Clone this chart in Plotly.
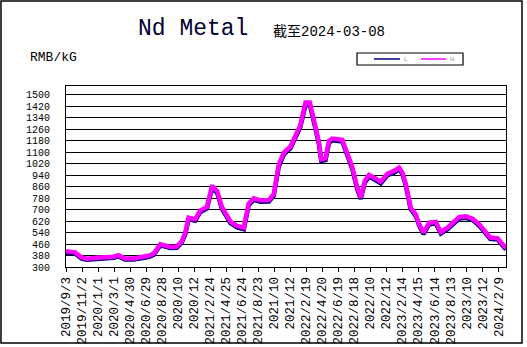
import plotly.graph_objects as go

dates = ["2019-09-03","2019-10-07","2019-11-01","2019-11-20","2019-12-27",
         "2020-02-03","2020-02-28","2020-03-17","2020-04-11","2020-05-13","2020-06-07","2020-07-08","2020-07-27","2020-08-21","2020-09-09","2020-09-27","2020-10-22","2020-11-10","2020-11-23","2020-12-05","2020-12-30",
         "2021-01-18","2021-02-12","2021-03-03","2021-03-22","2021-04-09","2021-05-11","2021-06-05","2021-06-30","2021-07-18","2021-08-06","2021-08-31","2021-10-02","2021-10-20","2021-11-08","2021-11-27","2021-12-22",
         "2022-01-10","2022-01-28","2022-02-16","2022-03-04","2022-03-26","2022-04-07","2022-04-16","2022-05-02","2022-05-15","2022-05-27","2022-07-04","2022-07-23","2022-08-10","2022-08-29","2022-09-11","2022-09-26","2022-10-12","2022-10-31","2022-11-25","2022-12-20",
         "2023-01-14","2023-02-02","2023-02-14","2023-02-27","2023-03-17","2023-04-05","2023-04-18","2023-05-04","2023-05-25","2023-06-19","2023-07-08","2023-08-02","2023-08-27","2023-09-15","2023-10-10","2023-11-04","2023-11-29","2023-12-24",
         "2024-01-09","2024-02-06","2024-02-25","2024-03-08"]

price_H = [410,402,366,358,364,
           368,372,382,360,360,366,378,393,458,450,440,442,481,540,644,633,
           695,719,865,830,719,616,586,574,742,779,765,767,807,1016,1098,1140,
           1226,1291,1447,1447,1273,1174,1051,1058,1179,1195,1186,1091,998,853,784,900,942,923,895,951,
           970,993,958,877,714,667,598,540,609,614,544,574,621,649,653,637,598,540,
           505,500,458,430]

price_L = [400,395,358,350,356,
           360,364,374,352,352,358,370,385,450,442,432,434,472,530,632,622,
           684,708,850,818,708,606,576,564,730,768,755,757,796,1000,1085,1128,
           1212,1278,1430,1432,1260,1160,1040,1046,1166,1183,1175,1080,986,842,774,888,930,912,884,940,
           958,982,948,866,704,657,588,530,598,604,534,564,610,638,643,627,588,531,
           496,491,450,422]

tick_dates = ["2019-09-03","2019-11-02","2020-01-01","2020-03-01","2020-04-30","2020-06-29","2020-08-28",
              "2020-10-27","2020-12-26","2021-02-24","2021-04-25","2021-06-24","2021-08-23","2021-10-22",
              "2021-12-21","2022-02-19","2022-04-20","2022-06-19","2022-08-18","2022-10-17","2022-12-16",
              "2023-02-14","2023-04-15","2023-06-14","2023-08-13","2023-10-12","2023-12-11","2024-02-09"]
tick_labels = ["2019/9/3","2019/11/2","2020/1/1","2020/3/1","2020/4/30","2020/6/29","2020/8/28",
               "2020/10","2020/12","2021/2/24","2021/4/25","2021/6/24","2021/8/23","2021/10",
               "2021/12","2022/2/19","2022/4/20","2022/6/19","2022/8/18","2022/10","2022/12",
               "2023/2/14","2023/4/15","2023/6/14","2023/8/13","2023/10","2023/12","2024/2/9"]

MONO = "Liberation Mono"

fig = go.Figure()
fig.add_trace(go.Scatter(x=dates, y=price_L, mode="lines", name="L",
                         line=dict(color="#000080", width=4.5), showlegend=False))
fig.add_trace(go.Scatter(x=dates, y=price_H, mode="lines", name="H",
                         line=dict(color="#FF00FF", width=4.5), showlegend=False))

L, R, T, B = 66, 506, 86, 267
W, H = R - L, B - T
def px(x): return (x - L) / W
def py(y): return (B - y) / H

shapes = [
    dict(type="rect", xref="paper", yref="paper", x0=px(1), x1=px(522), y0=py(1), y1=py(343),
         line=dict(color="black", width=1.5), layer="below"),
    dict(type="rect", xref="paper", yref="paper", x0=px(357), x1=px(463), y0=py(53), y1=py(65),
         line=dict(color="black", width=1.2), fillcolor="white"),
    dict(type="line", xref="paper", yref="paper", x0=px(374), x1=px(400), y0=py(59), y1=py(59),
         line=dict(color="#000080", width=1.5)),
    dict(type="line", xref="paper", yref="paper", x0=px(421), x1=px(446), y0=py(59), y1=py(59),
         line=dict(color="#FF00FF", width=1.5)),
]

annotations = [
    dict(text="Nd Metal", xref="paper", yref="paper", x=px(192.5), y=py(29), xanchor="center", yanchor="middle",
         showarrow=False, font=dict(family=MONO, size=23, color="#000033")),
    dict(text="截至2024-03-08", xref="paper", yref="paper", x=px(271), y=py(32), xanchor="left", yanchor="middle",
         showarrow=False, font=dict(family=MONO + ", Noto Sans CJK SC", size=14, color="black")),
    dict(text="RMB/kG", xref="paper", yref="paper", x=px(28), y=py(57), xanchor="left", yanchor="middle",
         showarrow=False, font=dict(family=MONO, size=13, color="black")),
    dict(text="L", xref="paper", yref="paper", x=px(402), y=py(59), xanchor="left", yanchor="middle",
         showarrow=False, font=dict(family="Liberation Sans", size=6, color="#c07878")),
    dict(text="H", xref="paper", yref="paper", x=px(448), y=py(59), xanchor="left", yanchor="middle",
         showarrow=False, font=dict(family="Liberation Sans", size=6, color="#8090a0")),
]

fig.update_layout(
    width=527, height=347,
    margin=dict(l=L, r=527 - R, t=T, b=347 - B, pad=0, autoexpand=False),
    paper_bgcolor="white", plot_bgcolor="white",
    shapes=shapes, annotations=annotations,
    showlegend=False,
)
fig.update_xaxes(
    type="date", range=["2019-09-03", "2024-03-08"], automargin=False,
    tickmode="array", tickvals=tick_dates, ticktext=tick_labels, tickangle=-90,
    ticks="outside", ticklen=4, tickcolor="black", tickwidth=1,
    tickfont=dict(family=MONO, size=12.5, color="black"),
    showgrid=False, showline=True, linecolor="black", linewidth=1, mirror=True, zeroline=False,
)
fig.update_yaxes(
    range=[300, 1562], tick0=300, dtick=80, tickmode="linear", automargin=False,
    showgrid=True, gridcolor="black", gridwidth=1,
    ticks="", ticklabelstandoff=13,
    tickfont=dict(family=MONO, size=10, color="black"),
    showline=True, linecolor="black", linewidth=1, mirror=True, zeroline=False,
)

fig.write_html("out.html")
